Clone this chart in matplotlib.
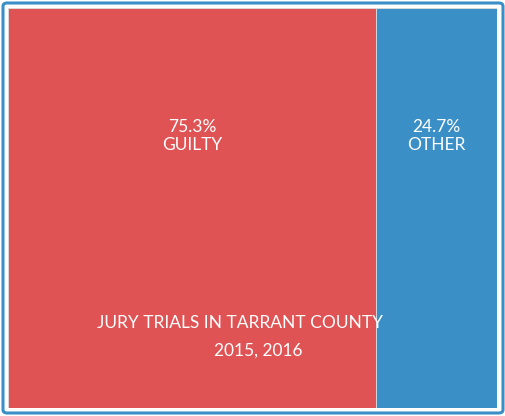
import matplotlib
matplotlib.use('Agg')
import matplotlib.pyplot as plt
from matplotlib.patches import FancyBboxPatch

categories = ['GUILTY', 'OTHER']
shares = [75.3, 24.7]
colors = ['#e05354', '#3a8fc6']
title_lines = ['JURY TRIALS IN TARRANT COUNTY', '2015, 2016']

W, H = 506, 416
fig = plt.figure(figsize=(W / 100, H / 100), dpi=100, facecolor='white')

# outer rounded frame (no fill, so the bars stay visible)
fig.patches.append(FancyBboxPatch((3 / W, 3 / H), (W - 6) / W, (H - 6) / H,
                                  boxstyle='round,pad=0,rounding_size=0.008',
                                  transform=fig.transFigure, facecolor='none',
                                  edgecolor='#3a8fc6', linewidth=2.2))

ax = fig.add_axes([8 / W, 8 / H, (497 - 8) / W, (408 - 8) / H])
left = 0
for cat, v, c in zip(categories, shares, colors):
    ax.barh(0, v, left=left, height=1, color=c, edgecolor='#dddddd', linewidth=0.6)
    ax.text(left + v / 2, 0.18, f'{v}%\n{cat}', ha='center', va='center',
            color='white', fontsize=12.5, family='Lato', linespacing=1.1)
    left += v
ax.set_xlim(0, sum(shares))
ax.set_ylim(-0.5, 0.5)
ax.axis('off')

fig.text(240 / W, 1 - 323 / H, title_lines[0], ha='center', va='center',
         color='white', fontsize=12.5, family='Lato', zorder=5)
fig.text(258 / W, 1 - 351 / H, title_lines[1], ha='center', va='center',
         color='white', fontsize=12.5, family='Lato', zorder=5)

fig.savefig('out.png', dpi=100, facecolor='white')
